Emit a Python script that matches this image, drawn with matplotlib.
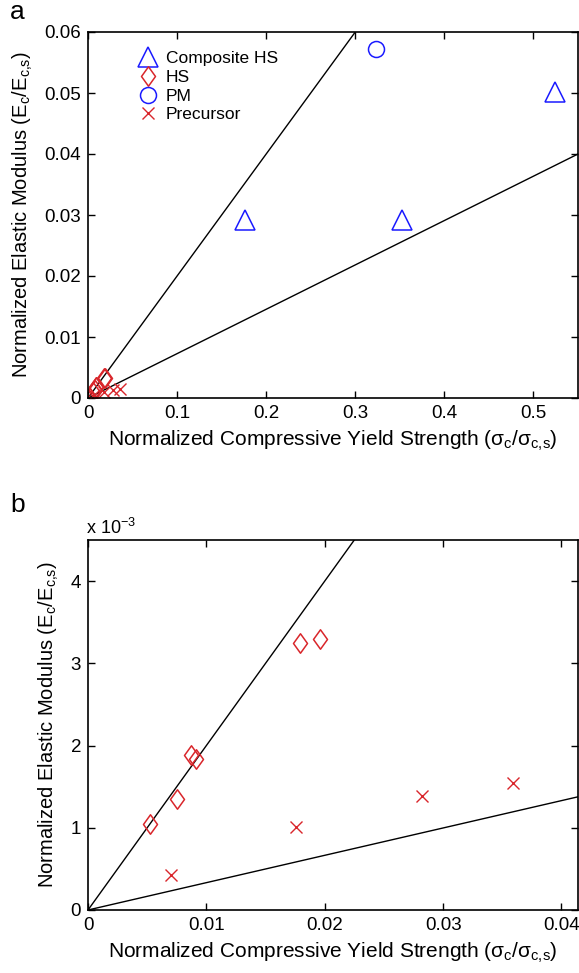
import matplotlib
matplotlib.use("Agg")
import matplotlib.pyplot as plt
from matplotlib.path import Path

plt.rcParams['font.family'] = ['Liberation Sans', 'DejaVu Sans']
plt.rcParams['mathtext.default'] = 'regular'

# data
comp_hs_x = [0.176, 0.353, 0.524]
comp_hs_y = [0.0292, 0.0292, 0.0502]
pm_x = [0.323]
pm_y = [0.0572]
hs_x = [0.0052, 0.0075, 0.0087, 0.0091, 0.0179, 0.0196]
hs_y = [0.00104, 0.00135, 0.00188, 0.00184, 0.00325, 0.00330]
prec_x = [0.0070, 0.0176, 0.0282, 0.0359]
prec_y = [0.00043, 0.00101, 0.00139, 0.00155]

# reference lines (end points)
steep_x = [0, 0.35]
steep_y = [0, 0.07]
shallow_a_x = [0, 0.55]
shallow_a_y = [0, 0.040]
shallow_b_x = [0, 0.0415]
shallow_b_y = [0, 0.00138]

blue = '#1a1aff'
red = '#d9262b'
diamond = Path([(0, 1), (0.72, 0), (0, -1), (-0.72, 0), (0, 1)],
               [Path.MOVETO, Path.LINETO, Path.LINETO, Path.LINETO, Path.CLOSEPOLY])

xlab = 'Normalized Compressive Yield Strength (σ$_{c}$/σ$_{c{,}s}$)'
ylab = 'Normalized Elastic Modulus (E$_{c}$/E$_{c{,}s}$)'

fig = plt.figure(figsize=(5.79, 9.73), dpi=100)
ax1 = fig.add_axes([88/579, 1-398/973, 490/579, 366/973])
ax2 = fig.add_axes([88/579, 1-910/973, 490/579, 370/973])


def style(ax):
    ax.tick_params(direction='in', top=True, right=True, length=5, width=1,
                   labelsize=13.5, pad=5)
    for s in ax.spines.values():
        s.set_linewidth(1.2)
    ax.set_xlabel(xlab, fontsize=15, labelpad=5)
    ax.set_ylabel(ylab, fontsize=14.5, labelpad=7)


def markers(ax, with_composite):
    if with_composite:
        ax.plot(comp_hs_x, comp_hs_y, '^', ms=14, mfc='none', mec=blue, mew=1.1,
                ls='none', label='Composite HS')
    ax.plot(hs_x, hs_y, marker=diamond, ms=14, mfc='none', mec=red, mew=1.1,
            ls='none', label='HS')
    if with_composite:
        ax.plot(pm_x, pm_y, 'o', ms=11.5, mfc='none', mec=blue, mew=1.1,
                ls='none', label='PM')
    ax.plot(prec_x, prec_y, 'x', ms=9, mec=red, mew=1.0, ls='none',
            label='Precursor')


# panel a
ax1.plot(steep_x, steep_y, 'k-', lw=1)
ax1.plot(shallow_a_x, shallow_a_y, 'k-', lw=1)
markers(ax1, True)
ax1.set_xlim(0, 0.55)
ax1.set_ylim(0, 0.06)
ax1.set_xticks([0, 0.1, 0.2, 0.3, 0.4, 0.5])
ax1.set_xticklabels(['0', '0.1', '0.2', '0.3', '0.4', '0.5'])
ax1.set_yticks([0, 0.01, 0.02, 0.03, 0.04, 0.05, 0.06])
ax1.set_yticklabels(['0', '0.01', '0.02', '0.03', '0.04', '0.05', '0.06'])
style(ax1)
h, l = ax1.get_legend_handles_labels()
order = [l.index(n) for n in ['Composite HS', 'HS', 'PM', 'Precursor']]
ax1.legend([h[i] for i in order], [l[i] for i in order], loc='upper left',
           bbox_to_anchor=(0.065, 0.99), frameon=False, fontsize=12.5,
           handletextpad=0.25, labelspacing=0.2, handlelength=1.5)

# panel b
ax2.plot(steep_x, steep_y, 'k-', lw=1)
ax2.plot(shallow_b_x, shallow_b_y, 'k-', lw=1)
markers(ax2, False)
ax2.set_xlim(0, 0.0414)
ax2.set_ylim(0, 0.0045)
ax2.set_xticks([0, 0.01, 0.02, 0.03, 0.04])
ax2.set_xticklabels(['0', '0.01', '0.02', '0.03', '0.04'])
ax2.set_yticks([0, 0.001, 0.002, 0.003, 0.004])
ax2.set_yticklabels(['0', '1', '2', '3', '4'])
style(ax2)
ax2.text(-0.005, 1.005, 'x 10$^{-3}$', transform=ax2.transAxes, fontsize=13,
         ha='left', va='bottom')

fig.text(10/579, 1-12/973, 'a', fontsize=19, ha='left', va='center')
fig.text(10/579, 1-505/973, 'b', fontsize=19, ha='left', va='center')

fig.savefig('out.png', dpi=100)
